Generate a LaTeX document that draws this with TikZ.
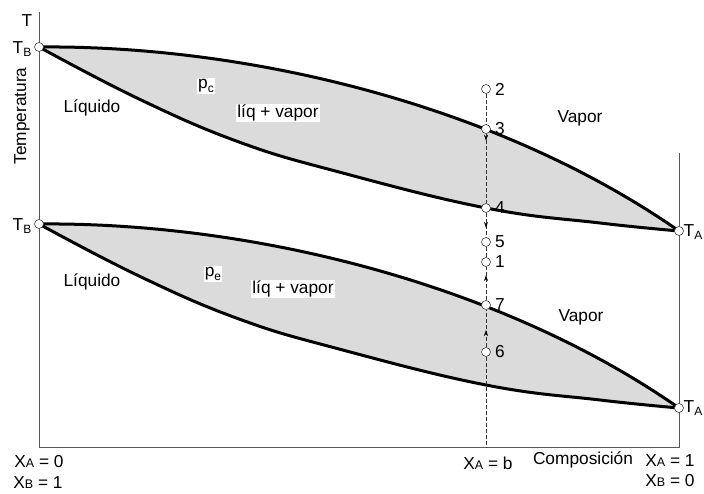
\documentclass[tikz,border=0pt]{standalone}
\usepackage{fontspec}
\setmainfont{Liberation Sans}
\usetikzlibrary{arrows.meta,decorations.markings}
\pgfdeclarelayer{bg}
\pgfsetlayers{bg,main}
\newcommand{\fs}{\fontsize{17.3}{20}\selectfont}
\newcommand{\sbs}[1]{\raisebox{-0.4ex}{\fontsize{12}{14}\selectfont #1}}
\newcommand{\smallcp}[1]{{\fontsize{12.5}{14}\selectfont #1}}
\newcommand{\lensshape}[3]{%
  \begin{scope}[yshift=-#3pt]
  \fill[lens] (#1.center) .. controls +(211,-2) and +(-179,-125) .. (#2.center)
     -- plot[smooth,tension=0.7] coordinates {(679,231) (600,223) (486,208) (339,172) (239,142) (139,99) (39,47)} -- cycle;
  \draw[curve] (#1.center) .. controls +(211,-2) and +(-179,-125) .. (#2.center);
  \draw[curve] plot[smooth,tension=0.7] coordinates {(39,47) (139,99) (239,142) (339,172) (486,208) (600,223) (679,231)};
  \end{scope}}
\begin{document}
\begin{tikzpicture}[x=1pt,y=-1pt,
  axis/.style={draw=black!65,line width=1pt},
  curve/.style={line width=3pt,black,line join=round},
  lens/.style={fill=black!14},
  pt/.style={circle,draw=black!75,fill=white,inner sep=0pt,minimum size=9pt,line width=0.6pt},
  txt/.style={font=\fs,inner sep=1pt},
  wtxt/.style={txt,fill=white},
  num/.style={font=\fs,inner sep=1pt},
  dashln/.style={draw=black!80,line width=0.6pt,dash pattern=on 4pt off 2pt},
  arrdown/.style={postaction={decorate},decoration={markings,mark=at position #1 with {\arrow[black]{Stealth[length=6pt,width=4pt]}}}}
]
\useasboundingbox (0,0) rectangle (704,494);
% axes
\coordinate (ytop) at (39,12);
\coordinate (orig) at (39,447);
\coordinate (xend) at (679,447);
\coordinate (rtop) at (679,153);
\draw[axis] (ytop) -- (orig) -- (xend) -- (rtop);
% end points
\node[pt] (tb1) at (39,47) {};
\node[pt] (ta1) at (679,231) {};
\node[pt] (tb2) at (39,224) {};
\node[pt] (ta2) at (679,408) {};
% lenses
\begin{pgfonlayer}{bg}
\lensshape{tb1}{ta1}{0}
\lensshape{tb2}{ta2}{177}
\end{pgfonlayer}
% points on the isopleth
\node[pt,label={[num,label distance=3pt]right:2}] (p2) at (486,89) {};
\node[pt,label={[num,label distance=3pt]right:3}] (p3) at (486,129) {};
\node[pt,label={[num,label distance=3pt]right:4}] (p4) at (486,208) {};
\node[pt,label={[num,label distance=3pt]right:5}] (p5) at (486,242) {};
\node[pt,label={[num,label distance=3pt]right:1}] (p1) at (486,262) {};
\node[pt,label={[num,label distance=3pt]right:7}] (p7) at (486,305) {};
\node[pt,label={[num,label distance=3pt]right:6}] (p6) at (486,352) {};
\coordinate (pb) at (486,447);
\draw[dashln] (p2) -- (p3);
\draw[dashln,arrdown=0.1] (p3) -- (p4);
\draw[dashln,arrdown=0.62] (p4) -- (p5);
\draw[dashln] (p5) -- (p1);
\draw[dashln,arrdown=0.75] (p7) -- (p1);
\draw[dashln,arrdown=0.46] (p6) -- (p7);
\draw[dashln] (p6) -- (pb);
% axis labels
\node[txt] (tlab) at (27,21) {T};
\node[txt] (tbl1) at (22,49) {T\sbs{B}};
\node[txt] (tbl2) at (22,226) {T\sbs{B}};
\node[txt,rotate=90] (temp) at (22,116) {Temperatura};
\node[txt] (tal1) at (693,232) {T\sbs{A}};
\node[txt] (tal2) at (693,408) {T\sbs{A}};
% region labels
\node[txt] (liq1) at (92,108) {Líquido};
\node[wtxt] (pc) at (206,86) {p\sbs{c}};
\node[wtxt] (lv1) at (278,113) {líq + vapor};
\node[txt] (vap1) at (580,118) {Vapor};
\node[txt] (liq2) at (92,282) {Líquido};
\node[wtxt] (pe) at (213,274) {p\sbs{e}};
\node[wtxt] (lv2) at (293,289) {líq + vapor};
\node[txt] (vap2) at (581,317) {Vapor};
% bottom labels
\node[txt] (xa0) at (39,462) {X\smallcp{A} = 0};
\node[txt] (xb1) at (38,483) {X\smallcp{B} = 1};
\node[txt] (xab) at (488,463) {X\smallcp{A} = b};
\node[txt] (comp) at (583,460) {Composición};
\node[txt] (xa1) at (670,461) {X\smallcp{A} = 1};
\node[txt] (xb0) at (670,481) {X\smallcp{B} = 0};
\end{tikzpicture}
\end{document}
